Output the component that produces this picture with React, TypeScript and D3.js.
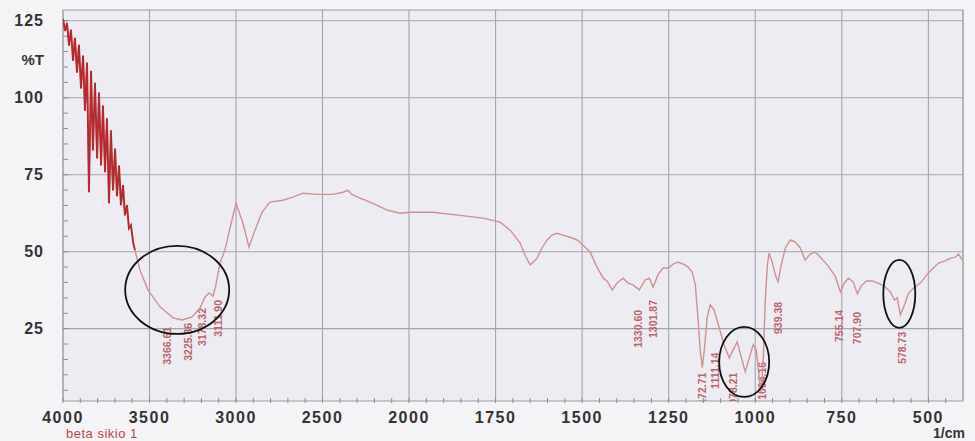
import React, { useEffect, useRef } from "react";
import * as d3 from "d3";

// FTIR spectrum, wavenumber (1/cm) vs %T
const wavenumber = [
  4000, 3988, 3977, 3965, 3954, 3942, 3931, 3919, 3908, 3896, 3884, 3873, 3861, 3850, 3838, 3827, 3815, 3803,
  3792, 3780, 3769, 3757, 3746, 3734, 3723, 3711, 3699, 3688, 3676, 3665, 3653, 3642, 3630, 3619, 3607, 3595,
  3584, 3555, 3509, 3439, 3364, 3312, 3254, 3208, 3179, 3156, 3133, 3116, 3093, 3064, 3035, 3000, 2960, 2925,
  2890, 2850, 2804, 2728, 2671, 2613, 2532, 2439, 2382, 2353, 2330, 2283, 2208, 2127, 2052, 1997, 1931, 1853,
  1786, 1737, 1708, 1679, 1665, 1650, 1642, 1630, 1616, 1601, 1587, 1572, 1555, 1535, 1514, 1497, 1477, 1457,
  1439, 1428, 1413, 1399, 1382, 1367, 1353, 1335, 1318, 1306, 1295, 1280, 1266, 1251, 1237, 1223, 1208, 1194,
  1182, 1173, 1165, 1159, 1153, 1147, 1139, 1130, 1119, 1104, 1090, 1075, 1064, 1052, 1040, 1029, 1017, 1006,
  997, 988, 983, 977, 971, 965, 960, 951, 942, 934, 925, 913, 899, 884, 870, 856, 841, 827,
  812, 789, 769, 754, 743, 731, 717, 705, 694, 679, 662, 645, 624, 610, 598, 590, 581, 569,
  558, 543, 523, 500, 471, 451, 436, 422, 413, 402,
];
const transmittance = [
  125.6, 121.7, 124.3, 116.9, 122.1, 112.0, 119.5, 108.1, 117.2, 103.0, 113.7, 95.8, 111.4, 69.3, 108.8, 82.9, 104.9, 80.3,
  101.7, 78.0, 97.5, 75.8, 93.3, 65.7, 89.4, 69.9, 83.5, 68.0, 78.0, 65.1, 71.6, 61.8, 65.1, 57.6, 58.6, 53.1,
  50.5, 44.0, 37.6, 32.1, 28.5, 27.8, 28.8, 31.7, 35.3, 36.6, 35.6, 39.2, 46.3, 50.5, 57.6, 65.7, 59.3, 51.5,
  57.0, 62.8, 66.1, 66.7, 67.7, 69.0, 68.6, 68.6, 69.3, 69.9, 68.6, 67.4, 65.7, 63.5, 62.5, 62.8, 62.8, 61.8,
  60.9, 59.6, 57.0, 52.8, 48.9, 45.7, 46.6, 47.9, 51.2, 53.8, 55.4, 56.0, 55.4, 54.7, 53.8, 52.1, 49.9, 45.0,
  41.4, 40.5, 37.6, 39.8, 41.4, 39.8, 39.2, 37.6, 40.8, 41.4, 38.5, 42.7, 44.7, 44.7, 46.0, 46.6, 46.0, 45.0,
  43.4, 39.2, 27.8, 18.1, 12.3, 18.1, 28.5, 32.7, 31.1, 25.3, 19.8, 15.5, 18.1, 20.7, 15.5, 11.0, 15.5, 19.8,
  18.1, 8.4, 4.2, 14.9, 34.3, 45.7, 49.5, 46.6, 42.4, 40.2, 45.7, 51.2, 53.8, 53.1, 51.2, 47.3, 49.2, 49.9,
  48.2, 45.3, 42.1, 36.9, 39.8, 41.4, 40.2, 36.3, 38.9, 40.5, 40.5, 39.8, 38.5, 36.9, 34.3, 35.0, 29.5, 32.7,
  36.3, 38.2, 39.8, 43.1, 46.3, 47.0, 47.9, 48.2, 49.2, 47.3,
];

// peak labels printed by the instrument
const peakText = [
  "3366.61", "3225.36", "3178.32", "3111.90", "1330.60", "1301.87", "1172.71",
  "1111.14", "1078.21", "1004.16", "939.38", "755.14", "707.90", "578.73",
];
const peakAt = [3399, 3277, 3197, 3104, 1338, 1295, 1153, 1116, 1064, 980, 934, 757, 705, 575];
const peakT = [28.2, 29.5, 34.3, 36.9, 33.7, 36.9, 13.3, 19.8, 13.3, 16.8, 36.3, 33.7, 33.0, 26.6];

const xTicks = [4000, 3500, 3000, 2500, 2000, 1750, 1500, 1250, 1000, 750, 500];
const yTicks = [25, 50, 75, 100, 125];

// hand drawn circles on the scan
const markWn = [3340, 1032, 584];
const markT = [37.6, 14.2, 36.3];

function App() {
  const svgRef = useRef<SVGSVGElement>(null);

  useEffect(() => {
    const W = 975;
    const H = 441;
    let svg = d3.select(svgRef.current);
    svg.selectChildren().remove();
    svg.attr("width", W).attr("height", H);

    const x = d3.scaleLinear().domain([4000, 2000, 400]).range([63, 409, 963]);
    const y = d3.scaleLinear().domain([1.5, 128.5]).range([401, 10]);

    svg.append("rect").attr("width", W).attr("height", H).attr("fill", "#f4f4f7");
    svg.append("rect")
      .attr("x", x(4000)).attr("y", y(128.5))
      .attr("width", x(400) - x(4000)).attr("height", y(1.5) - y(128.5))
      .attr("fill", "#ececf2");

    const grid = svg.append("g").attr("stroke", "#a4a4ab").attr("stroke-width", 1.1);
    grid.selectAll("line.v")
      .data(xTicks.concat([400]))
      .join("line")
      .attr("x1", d => x(d)).attr("x2", d => x(d))
      .attr("y1", y(128.5)).attr("y2", y(1.5));
    grid.selectAll("line.h")
      .data(yTicks)
      .join("line")
      .attr("class", "h")
      .attr("x1", x(4000)).attr("x2", x(400))
      .attr("y1", d => y(d)).attr("y2", d => y(d));
    grid.append("rect")
      .attr("x", x(4000)).attr("y", y(128.5))
      .attr("width", x(400) - x(4000)).attr("height", y(1.5) - y(128.5))
      .attr("fill", "none");

    // minor ticks
    const yMinor = d3.range(5, 128, 5);
    svg.append("g").attr("stroke", "#8a8a90")
      .selectAll("line")
      .data(yMinor)
      .join("line")
      .attr("x1", x(4000)).attr("x2", x(4000) + 5)
      .attr("y1", d => y(d)).attr("y2", d => y(d));
    const xMinor = d3.range(4000, 2000, -100).concat(d3.range(2000, 400, -50));
    svg.append("g").attr("stroke", "#8a8a90")
      .selectAll("line")
      .data(xMinor)
      .join("line")
      .attr("x1", d => x(d)).attr("x2", d => x(d))
      .attr("y1", y(1.5) - 3).attr("y2", y(1.5) + 2);

    const font = "'Liberation Sans', Arial, sans-serif";
    svg.append("g")
      .selectAll("text")
      .data(yTicks)
      .join("text")
      .attr("x", 44).attr("y", d => y(d))
      .attr("dy", "0.35em")
      .attr("text-anchor", "end")
      .attr("font-family", font).attr("font-size", 16).attr("font-weight", "bold")
      .attr("letter-spacing", 1)
      .attr("fill", "#333")
      .text(d => d);
    svg.append("text")
      .attr("x", 44).attr("y", y(112.5)).attr("dy", "0.35em")
      .attr("text-anchor", "end")
      .attr("font-family", font).attr("font-size", 15).attr("font-weight", "bold")
      .attr("fill", "#333")
      .text("%T");
    svg.append("g")
      .selectAll("text")
      .data(xTicks)
      .join("text")
      .attr("x", d => x(d)).attr("y", 423)
      .attr("text-anchor", "middle")
      .attr("font-family", font).attr("font-size", 16).attr("font-weight", "bold")
      .attr("letter-spacing", 1.5)
      .attr("fill", "#333")
      .text(d => d);
    svg.append("text")
      .attr("x", 965).attr("y", 438)
      .attr("text-anchor", "end")
      .attr("font-family", font).attr("font-size", 14).attr("font-weight", "bold")
      .attr("fill", "#333")
      .text("1/cm");
    svg.append("text")
      .attr("x", 66).attr("y", 438)
      .attr("font-family", font).attr("font-size", 13)
      .attr("letter-spacing", 0.5)
      .attr("fill", "#c4443c")
      .text("beta sikio 1");

    svg.append("clipPath").attr("id", "plotclip")
      .append("rect")
      .attr("x", x(4000)).attr("y", y(128.5))
      .attr("width", x(400) - x(4000)).attr("height", y(1.5) - y(128.5));

    const pts = wavenumber.map((w, i) => [w, transmittance[i]] as [number, number]);
    const line = d3.line<[number, number]>().x(d => x(d[0])).y(d => y(d[1]));
    const plot = svg.append("g").attr("clip-path", "url(#plotclip)");

    // peak labels
    plot.append("g")
      .selectAll("text")
      .data(peakText)
      .join("text")
      .attr("transform", (d, i) => `translate(${x(peakAt[i])},${y(peakT[i]) + 8}) rotate(-90)`)
      .attr("dy", "0.35em")
      .attr("text-anchor", "end")
      .attr("font-family", font).attr("font-size", 10.5).attr("font-weight", "bold")
      .attr("fill", "#b9646c")
      .text(d => d);

    plot.append("path")
      .datum(pts)
      .attr("fill", "none")
      .attr("stroke", "#d09090")
      .attr("stroke-width", 1.4)
      .attr("d", line);
    plot.append("path")
      .datum(pts.filter(d => d[0] >= 3584))
      .attr("fill", "none")
      .attr("stroke", "#b52a2e")
      .attr("stroke-width", 1.9)
      .attr("d", line);

    svg.append("g")
      .selectAll("ellipse")
      .data(markWn)
      .join("ellipse")
      .attr("cx", d => x(d))
      .attr("cy", (d, i) => y(markT[i]))
      .attr("rx", (d, i) => [52, 25, 16][i])
      .attr("ry", (d, i) => [44, 35, 34][i])
      .attr("fill", "none")
      .attr("stroke", "#111")
      .attr("stroke-width", 1.8);
  }, []);

  return (
    <div style={{ position: "absolute", left: 0, top: 0 }}>
      <svg ref={svgRef} style={{ display: "block" }}></svg>
    </div>
  );
}

export default App;
